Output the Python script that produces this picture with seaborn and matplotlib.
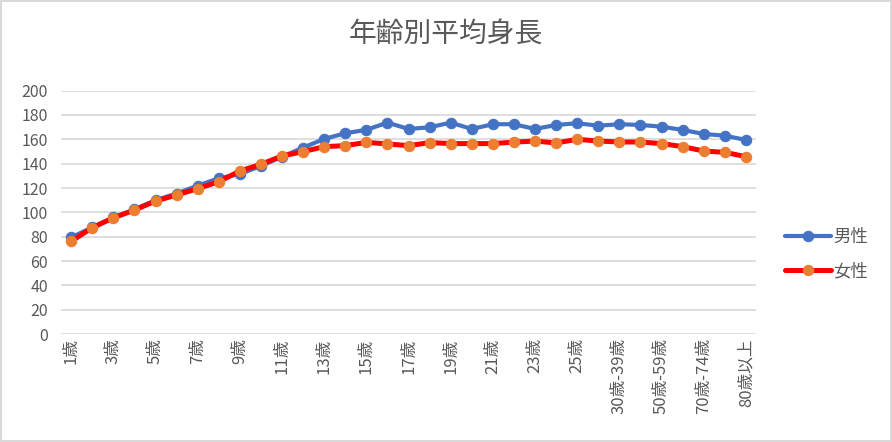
import numpy as np
import pandas as pd
import matplotlib
matplotlib.use("Agg")
import matplotlib.pyplot as plt
import seaborn as sns

# age groups (x axis)
ages = [f"{i}歳" for i in range(1, 26)] + [
    "26歳-29歳", "30歳-39歳", "40歳-49歳", "50歳-59歳",
    "60歳-69歳", "70歳-74歳", "75歳-79歳", "80歳以上"]

# average height (cm)
male = [79.5, 87.7, 95.8, 102.5, 110.0, 115.5, 122.0, 128.0, 131.5, 138.1,
        145.7, 153.2, 160.3, 165.0, 167.8, 173.7, 168.5, 169.9, 173.7, 168.5,
        172.4, 172.4, 168.5, 171.8, 173.2, 171.2, 172.4, 171.8, 170.4, 167.7,
        164.4, 163.0, 159.5]
female = [76.2, 87.5, 95.5, 101.9, 109.3, 114.3, 119.5, 125.2, 134.0, 139.5,
          146.3, 149.9, 154.0, 154.8, 157.5, 156.2, 154.8, 157.3, 156.5, 156.5,
          156.5, 157.7, 158.6, 157.0, 160.0, 158.6, 157.8, 157.8, 156.5, 154.0,
          150.4, 149.3, 145.8]

sns.set_style("white")
plt.rcParams['font.family'] = ['Noto Sans CJK JP', 'DejaVu Sans']
txt = "#595959"

pos = np.arange(len(ages))
df = pd.DataFrame({"pos": pos, "男性": male, "女性": female})

fig = plt.figure(figsize=(8.92, 4.42), dpi=100)
fig.patch.set_edgecolor("#D9D9D9")
fig.patch.set_linewidth(1.5)
ax = fig.add_axes([0.068, 0.244, 0.780, 0.551])

sns.lineplot(data=df, x="pos", y="男性", ax=ax, color="#4472C4", lw=3.0,
             marker="o", markersize=7.5, markerfacecolor="#4472C4",
             markeredgecolor="#4472C4", label="男性", zorder=3)
sns.lineplot(data=df, x="pos", y="女性", ax=ax, color="#FF0000", lw=3.6,
             marker="o", markersize=7.5, markerfacecolor="#ED7D31",
             markeredgecolor="#ED7D31", label="女性", zorder=4)

ax.set_xlim(-0.5, len(ages) - 0.5)
ax.set_ylim(0, 200)
ax.set_yticks(range(0, 201, 20))
ax.set_xticks(pos[::2])
ax.set_xticklabels(ages[::2], rotation=90, va="top", ha="center")
ax.tick_params(axis="both", length=0, colors=txt, labelsize=11.5)
ax.tick_params(axis="x", pad=3, labelsize=12)
ax.tick_params(axis="y", pad=9)
ax.grid(axis="y", color="#D9D9D9", lw=1.2)
ax.set_axisbelow(True)
for s in ax.spines.values():
    s.set_visible(False)
ax.set_xlabel("")
ax.set_ylabel("")

fig.suptitle("年齢別平均身長", x=0.5, y=0.955, fontsize=20, color=txt)

ax.legend(loc="center left", bbox_to_anchor=(0.862, 0.425),
          bbox_transform=fig.transFigure, frameon=False, fontsize=12.5,
          labelcolor=txt, handlelength=2.7, handletextpad=0.1,
          labelspacing=0.9)

fig.savefig("out.png", dpi=100)
